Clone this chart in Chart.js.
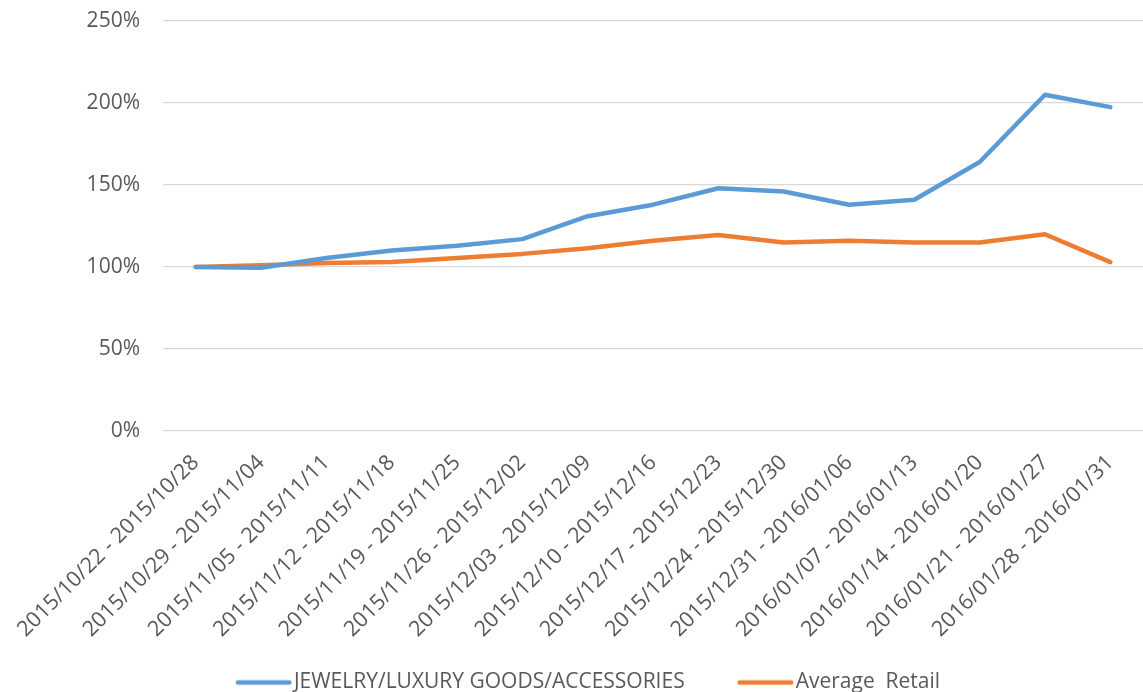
<!DOCTYPE html>
<html>
<head>
<meta charset="utf-8">
<script src="https://cdn.jsdelivr.net/npm/chart.js@4/dist/chart.umd.min.js"></script>
<style>
  html, body { margin: 0; padding: 0; background: #ffffff; }
  #wrap { width: 1143px; height: 692px; position: relative; }
</style>
</head>
<body>
<div id="wrap"><canvas id="chart"></canvas></div>
<script>
// Weekly periods on the category axis
const weeks = [
  '2015/10/22 - 2015/10/28',
  '2015/10/29 - 2015/11/04',
  '2015/11/05 - 2015/11/11',
  '2015/11/12 - 2015/11/18',
  '2015/11/19 - 2015/11/25',
  '2015/11/26 - 2015/12/02',
  '2015/12/03 - 2015/12/09',
  '2015/12/10 - 2015/12/16',
  '2015/12/17 - 2015/12/23',
  '2015/12/24 - 2015/12/30',
  '2015/12/31 - 2016/01/06',
  '2016/01/07 - 2016/01/13',
  '2016/01/14 - 2016/01/20',
  '2016/01/21 - 2016/01/27',
  '2016/01/28 - 2016/01/31'
];

// Index relative to the first week (percent)
const jewelryLuxury = [100, 99.5, 105.5, 110, 113, 117, 131, 138, 148, 146, 138, 141, 164, 205, 197.5];
const averageRetail = [100, 101, 102.5, 103, 105.5, 108, 111.5, 116, 119.5, 115, 116, 115, 115, 120, 103];

const seriesNames = ['JEWELRY/LUXURY GOODS/ACCESSORIES', 'Average  Retail'];
const yTicks = [0, 50, 100, 150, 200, 250];

const FONT = "'Open Sans', 'Liberation Sans', sans-serif";
const TEXT = '#595959';
const BLUE = '#5B9BD5';
const ORANGE = '#ED7D31';

// Legend swatch box width; the swatch line sits at its right end, next to the text
const SWATCH_BOX = 80.5;

function legendLine(color) {
  const c = document.createElement('canvas');
  c.width = Math.round(SWATCH_BOX + 17);
  c.height = 8;
  const g = c.getContext('2d');
  g.strokeStyle = color;
  g.lineWidth = 4.5;
  g.lineCap = 'round';
  g.beginPath();
  g.moveTo(SWATCH_BOX - 36.75, 4);
  g.lineTo(SWATCH_BOX + 14.75, 4);
  g.stroke();
  return c;
}

new Chart(document.getElementById('chart'), {
  type: 'line',
  data: {
    labels: weeks,
    datasets: [
      {
        label: seriesNames[0],
        data: jewelryLuxury,
        borderColor: BLUE,
        backgroundColor: BLUE,
        borderWidth: 4.5,
        borderCapStyle: 'round',
        borderJoinStyle: 'round',
        pointRadius: 0,
        pointStyle: legendLine(BLUE),
        tension: 0
      },
      {
        label: seriesNames[1],
        data: averageRetail,
        borderColor: ORANGE,
        backgroundColor: ORANGE,
        borderWidth: 4.5,
        borderCapStyle: 'round',
        borderJoinStyle: 'round',
        pointRadius: 0,
        pointStyle: legendLine(ORANGE),
        tension: 0
      }
    ]
  },
  options: {
    responsive: true,
    maintainAspectRatio: false,
    animation: false,
    layout: { padding: { top: 21, right: 0, bottom: -11, left: 0 } },
    plugins: {
      tooltip: { enabled: false },
      legend: {
        position: 'bottom',
        labels: {
          usePointStyle: true,
          pointStyleWidth: SWATCH_BOX,
          boxHeight: 10,
          padding: 20,
          color: TEXT,
          font: { family: FONT, size: 21 }
        }
      }
    },
    scales: {
      x: {
        offset: true,
        grid: { display: false },
        border: { display: false },
        ticks: {
          autoSkip: false,
          minRotation: 45,
          maxRotation: 45,
          padding: 11,
          color: TEXT,
          font: { family: FONT, size: 21.5 }
        },
        afterFit: (scale) => {
          scale.height = 221;
          scale.paddingLeft = 0;
          scale.paddingRight = 0;
        }
      },
      y: {
        min: 0,
        max: 250,
        afterBuildTicks: (scale) => { scale.ticks = yTicks.map(v => ({ value: v })); },
        grid: { color: '#D9D9D9', lineWidth: 1.3, drawTicks: false },
        border: { display: false },
        ticks: {
          padding: 23,
          color: TEXT,
          font: { family: FONT, size: 21 },
          callback: (v) => v + '%'
        },
        afterFit: (scale) => {
          scale.width = 163;
          scale.paddingTop = 0;
          scale.paddingBottom = 0;
        }
      }
    }
  }
});
</script>
</body>
</html>
